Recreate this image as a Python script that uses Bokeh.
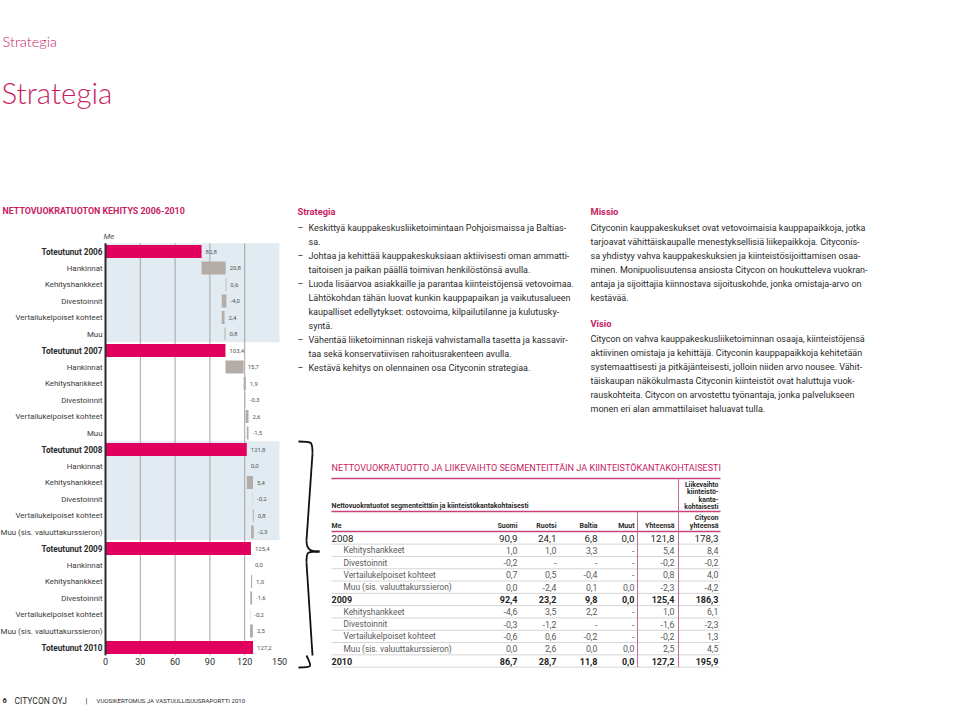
from bokeh.plotting import figure
from bokeh.models import Range1d, LinearAxis, FixedTicker, ColumnDataSource
from bokeh.layouts import column, row
from bokeh.embed import file_html
from bokeh.resources import INLINE
from bokeh.core.properties import value

# ---------------- data ----------------
categories = ["Toteutunut 2006", "Hankinnat", "Kehityshankkeet", "Divestoinnit", "Vertailukelpoiset kohteet", "Muu",
              "Toteutunut 2007", "Hankinnat", "Kehityshankkeet", "Divestoinnit", "Vertailukelpoiset kohteet", "Muu",
              "Toteutunut 2008", "Hankinnat", "Kehityshankkeet", "Divestoinnit", "Vertailukelpoiset kohteet",
              "Muu (sis. valuuttakurssieron)",
              "Toteutunut 2009", "Hankinnat", "Kehityshankkeet", "Divestoinnit", "Vertailukelpoiset kohteet",
              "Muu (sis. valuuttakurssieron)",
              "Toteutunut 2010"]
values = [82.8, 20.8, 0.6, -4.0, 2.4, 0.8,
          103.4, 15.7, 1.9, -0.3, 2.6, -1.5,
          121.8, 0.0, 5.4, -0.2, 0.8, -2.3,
          125.4, 0.0, 1.0, -1.6, -0.2, 2.5,
          127.2]
is_total = [c.startswith("Toteutunut") for c in categories]
x_ticks = [0, 30, 60, 90, 120, 150]
grid_values = [30, 60, 90, 120]
shaded_years = ["Toteutunut 2006", "Toteutunut 2008"]
unit_label = "Me"

table_rows = ["2008", "Kehityshankkeet", "Divestoinnit", "Vertailukelpoiset kohteet", "Muu (sis. valuuttakurssieron)",
              "2009", "Kehityshankkeet", "Divestoinnit", "Vertailukelpoiset kohteet", "Muu (sis. valuuttakurssieron)",
              "2010"]
table_headers = ["Suomi", "Ruotsi", "Baltia", "Muut", "Yhteensä", "Citycon|yhteensä"]
suomi = [90.9, 1.0, -0.2, 0.7, 0.0, 92.4, -4.6, -0.3, -0.6, 0.0, 86.7]
ruotsi = [24.1, 1.0, None, 0.5, -2.4, 23.2, 3.5, -1.2, 0.6, 2.6, 28.7]
baltia = [6.8, 3.3, None, -0.4, 0.1, 9.8, 2.2, None, -0.2, 0.0, 11.8]
muut = [0.0, None, None, None, 0.0, 0.0, None, None, None, 0.0, 0.0]
yhteensa = [121.8, 5.4, -0.2, 0.8, -2.3, 125.4, 1.0, -1.6, -0.2, 2.5, 127.2]
citycon = [178.3, 8.4, -0.2, 4.0, -4.2, 186.3, 6.1, -2.3, 1.3, 4.5, 195.9]

strategia_items = [
    ["Keskittyä kauppakeskusliiketoimintaan Pohjoismaissa ja Baltias-", "sa."],
    ["Johtaa ja kehittää kauppakeskuksiaan aktiivisesti oman ammatti-",
     "taitoisen ja paikan päällä toimivan henkilöstönsä avulla."],
    ["Luoda lisäarvoa asiakkaille ja parantaa kiinteistöjensä vetovoimaa.",
     "Lähtökohdan tähän luovat kunkin kauppapaikan ja vaikutusalueen",
     "kaupalliset edellytykset: ostovoima, kilpailutilanne ja kulutusky-",
     "syntä."],
    ["Vähentää liiketoiminnan riskejä vahvistamalla tasetta ja kassavir-",
     "taa sekä konservatiivisen rahoitusrakenteen avulla."],
    ["Kestävä kehitys on olennainen osa Cityconin strategiaa."],
]
missio_lines = [
    "Cityconin kauppakeskukset ovat vetovoimaisia kauppapaikkoja, jotka",
    "tarjoavat vähittäiskaupalle menestyksellisiä liikepaikkoja. Cityconis-",
    "sa yhdistyy vahva kauppakeskuksien ja kiinteistösijoittamisen osaa-",
    "minen. Monipuolisuutensa ansiosta Citycon on houkutteleva vuokran-",
    "antaja ja sijoittajia kiinnostava sijoituskohde, jonka omistaja-arvo on",
    "kestävää.",
]
visio_lines = [
    "Citycon on vahva kauppakeskusliiketoiminnan osaaja, kiinteistöjensä",
    "aktiivinen omistaja ja kehittäjä. Cityconin kauppapaikkoja kehitetään",
    "systemaattisesti ja pitkäjänteisesti, jolloin niiden arvo nousee. Vähit-",
    "täiskaupan näkökulmasta Cityconin kiinteistöt ovat haluttuja vuok-",
    "rauskohteita. Citycon on arvostettu työnantaja, jonka palvelukseen",
    "monen eri alan ammattilaiset haluavat tulla.",
]

# ---------------- styles / layout ----------------
BODY = "Roboto"
HEAD = "'Lato Light', Lato"
PINK_BAR = "#e2005f"
PINK_TXT = "#c81d63"
PINK_LINE = "#c8417a"
GRAY_BAR = "#b4ada7"
BLUE = "#e1ebf1"
GRID = "#a3a3a3"
DARK = "#2b2b2b"
MID = "#555555"

W_LEFT, W_RIGHT = 290, 654
H_TOTAL, H_FOOT = 712, 24
H_MAIN = H_TOTAL - H_FOOT
FRAME_BOTTOM = 655
AX0, PX_UNIT = 105.0, (279.0 - 105.0) / 150.0
ROW0, PITCH = 251.0, 16.5


def fmt(v):
    return "-" if v is None else f"{v:.1f}".replace(".", ",")


def put(fig, xs, ys, texts, size, color, font=BODY, style="normal", align="left",
        xr="page", yr="page", x_offset=0):
    src = ColumnDataSource(dict(x=list(xs), y=list(ys), t=list(texts)))
    fig.text(x="x", y="y", text="t", source=src, text_font=value(font),
             text_font_size=f"{size}px", text_color=color, text_font_style=style,
             text_align=align, text_baseline="middle", x_offset=x_offset,
             x_range_name=xr, y_range_name=yr)


def blank(width, height, xr, yr, **kw):
    f = figure(width=width, height=height, output_backend="svg", toolbar_location=None, tools="",
               x_range=xr, y_range=yr, x_axis_type=None, y_axis_type=None,
               min_border_left=0, min_border_right=0, min_border_top=0, **kw)
    f.outline_line_color = None
    f.background_fill_color = "white"
    return f


# ---------------- left: waterfall chart ----------------
p = blank(W_LEFT, H_MAIN,
          Range1d((0 - AX0) / PX_UNIT, (W_LEFT - AX0) / PX_UNIT),
          Range1d((FRAME_BOTTOM - ROW0) / PITCH, (0 - ROW0) / PITCH),
          min_border_bottom=H_MAIN - FRAME_BOTTOM)
p.extra_x_ranges = {"page": Range1d(0, W_LEFT)}
p.extra_y_ranges = {"page": Range1d(FRAME_BOTTOM, 0)}

rows = list(range(len(categories)))
left, right = [], []
cum = 0.0
for v, tot in zip(values, is_total):
    if tot:
        a, b = 0.0, v
        cum = v
    else:
        a, b = cum, cum + v
        cum = cum + v
    left.append(min(a, b))
    right.append(max(a, b))

n = len(categories)
for yname in shaded_years:
    s = categories.index(yname)
    p.quad(left=[0], right=[150], top=[s - 0.5], bottom=[s + 5.5], fill_color=BLUE, line_color=None)

p.segment(x0=grid_values, y0=[-0.5] * len(grid_values), x1=grid_values, y1=[n - 0.5] * len(grid_values),
          line_color=GRID, line_width=1)

colors = [PINK_BAR if t else GRAY_BAR for t in is_total]
p.hbar(y=rows, left=left, right=right, height=0.78, fill_color=colors, line_color=None)
p.segment(x0=[0], y0=[-0.5], x1=[0], y1=[n - 0.5], line_color=DARK, line_width=2)

put(p, right, rows, [fmt(v) for v in values], 6, MID, xr="default", yr="default", x_offset=4)

tot_rows = [r for r in rows if is_total[r]]
oth_rows = [r for r in rows if not is_total[r]]
put(p, [102] * len(tot_rows), tot_rows, [categories[r] for r in tot_rows], 8.2, DARK, style="bold",
    align="right", yr="default")
put(p, [102] * len(oth_rows), oth_rows, [categories[r] for r in oth_rows], 7.9, "#3a3a3a",
    align="right", yr="default")

xaxis = LinearAxis(ticker=FixedTicker(ticks=x_ticks))
xaxis.axis_line_color = None
xaxis.major_tick_line_color = None
xaxis.minor_tick_line_color = None
xaxis.major_tick_out = 0
xaxis.major_tick_in = 0
xaxis.minor_tick_out = 0
xaxis.major_label_standoff = 2
xaxis.major_label_text_font = BODY
xaxis.major_label_text_font_size = "9px"
xaxis.major_label_text_color = DARK
p.add_layout(xaxis, "below")

put(p, [103], [236], [unit_label], 8, MID, style="italic")
put(p, [2], [210], ["NETTOVUOKRATUOTON KEHITYS 2006-2010"], 8.9, PINK_TXT, style="bold")

put(p, [2], [41], ["Strategia"], 14.5, PINK_TXT, font=HEAD)
put(p, [1], [92], ["Strategia"], 29.5, PINK_TXT, font=HEAD)

# footer
ft = blank(W_LEFT, H_FOOT, Range1d(0, W_LEFT), Range1d(H_TOTAL, H_MAIN), min_border_bottom=0)
put(ft, [2], [700], ["6"], 7.5, DARK, style="bold", xr="default", yr="default")
put(ft, [14], [700], ["CITYCON OYJ"], 8.5, DARK, xr="default", yr="default")
put(ft, [86], [700], ["|"], 8, DARK, align="center", xr="default", yr="default")
put(ft, [96], [700], ["VUOSIKERTOMUS JA VASTUULLISUUSRAPORTTI 2010"], 6.1, DARK, xr="default", yr="default")

# ---------------- right: texts and table ----------------
q = blank(W_RIGHT, H_TOTAL, Range1d(W_LEFT, W_LEFT + W_RIGHT), Range1d(H_TOTAL, 0), min_border_bottom=0)
q.extra_x_ranges = {"page": Range1d(W_LEFT, W_LEFT + W_RIGHT)}
q.extra_y_ranges = {"page": Range1d(H_TOTAL, 0)}

LP = 14.0
BS = 9
HS = 9.3
put(q, [297], [211], ["Strategia"], HS, PINK_TXT, style="bold")
ys, txts, dash_y = [], [], []
y = 227
for item in strategia_items:
    dash_y.append(y)
    for line in item:
        ys.append(y)
        txts.append(line)
        y += LP
put(q, [297] * len(dash_y), dash_y, ["–"] * len(dash_y), BS, DARK)
put(q, [308] * len(ys), ys, txts, BS, DARK)

put(q, [590], [211], ["Missio"], HS, PINK_TXT, style="bold")
put(q, [590] * len(missio_lines), [227 + i * LP for i in range(len(missio_lines))], missio_lines, BS, DARK)
put(q, [590], [323], ["Visio"], HS, PINK_TXT, style="bold")
put(q, [590] * len(visio_lines), [338 + i * LP for i in range(len(visio_lines))], visio_lines, BS, DARK)

# brace
q.bezier(x0=[298, 306, 319, 306], y0=[441, 540, 551, 655],
         x1=[312, 319, 306, 298], y1=[453, 551, 562, 667],
         cx0=[312, 306, 306, 312], cy0=[441, 551, 551, 667],
         cx1=[312, 312, 306, 312], cy1=[441, 551, 551, 667],
         line_color="#111111", line_width=1.8, x_range_name="page", y_range_name="page")
q.segment(x0=[312, 306], y0=[453, 562], x1=[306, 312], y1=[540, 655],
          line_color="#111111", line_width=1.8, x_range_name="page", y_range_name="page")

# table
TX0, TX1 = 331, 720
put(q, [TX0], [467], ["NETTOVUOKRATUOTTO JA LIIKEVAIHTO SEGMENTEITTÄIN JA KIINTEISTÖKANTAKOHTAISESTI"], 9.1, PINK_TXT)
put(q, [TX0], [505], ["Nettovuokratuotot segmenteittäin ja kiinteistökantakohtaisesti"], 7, DARK, style="bold")
put(q, [718] * 4, [484, 491.5, 499, 506], ["Liikevaihto", "kiinteistö-", "kanta-", "kohtaisesti"], 6.9, DARK,
    style="bold", align="right")
col_x = [517, 556, 597, 634, 674, 718]
hx, hy, ht = [], [], []
for cx, h in zip(col_x, table_headers):
    parts = h.split("|")
    if len(parts) == 1:
        hx.append(cx); hy.append(525); ht.append(parts[0])
    else:
        hx += [cx, cx]; hy += [517, 525]; ht += parts
put(q, [TX0], [525], ["Me"], 7, DARK, style="bold")
put(q, hx, hy, ht, 7, DARK, style="bold", align="right")

TY0, TP = 537.5, 12.3
cols = [suomi, ruotsi, baltia, muut, yhteensa, citycon]
row_y = [TY0 + i * TP for i in range(len(table_rows))]
is_year = [r.isdigit() for r in table_rows]
for i, (lab, ry) in enumerate(zip(table_rows, row_y)):
    if is_year[i]:
        bold = lab != "2008"
        size = 9 if bold else 9.8
        st = "bold" if bold else "normal"
        put(q, [TX0], [ry], [lab], size, "#1e1e1e", style=st)
        put(q, col_x, [ry] * 6, [fmt(c[i]) for c in cols], size, "#1e1e1e", style=st, align="right")
    else:
        put(q, [343], [ry], [lab], 8.4, "#5a5a5a")
        put(q, col_x, [ry] * 6, [fmt(c[i]) for c in cols], 8.8, "#5a5a5a", align="right")

sep_y = [ry + TP / 2 for ry in row_y]
q.segment(x0=[TX0] * len(sep_y), y0=sep_y, x1=[TX1] * len(sep_y), y1=sep_y,
          line_color="#c9c9c9", line_width=0.8, x_range_name="page", y_range_name="page")
q.segment(x0=[TX0, TX0, TX0], y0=[478, 511, 531], x1=[TX1, TX1, TX1], y1=[478, 511, 531],
          line_color=PINK_LINE, line_width=1.5, x_range_name="page", y_range_name="page")
q.segment(x0=[637, 678], y0=[511, 478], x1=[637, 678], y1=[sep_y[-1], sep_y[-1]],
          line_color="#c86a96", line_width=1, x_range_name="page", y_range_name="page")

layout = row(column(p, ft, spacing=0), q, spacing=0)
open("out.html", "w").write(file_html(layout, INLINE))
